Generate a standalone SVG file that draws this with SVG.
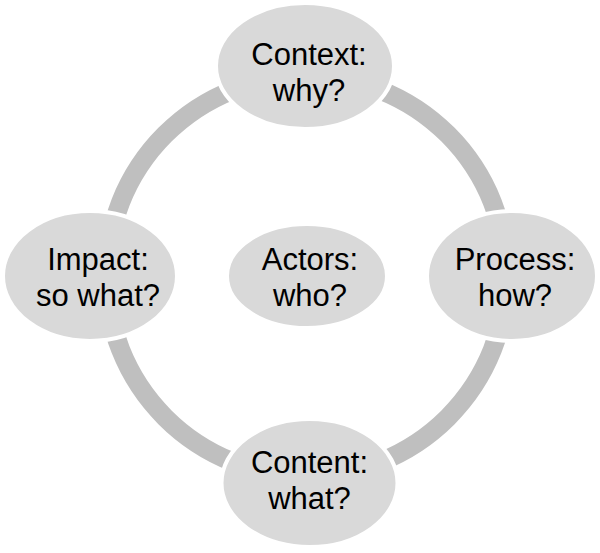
<svg xmlns="http://www.w3.org/2000/svg" width="600" height="553" viewBox="0 0 600 553">
<style>
.n{fill:#d9d9d9;stroke:#ffffff;stroke-width:4}
.t{font-family:"Liberation Sans",Arial,sans-serif;font-size:31px;fill:#000;text-anchor:middle}
.ring{fill:none;stroke:#bfbfbf;stroke-width:19}
</style>
<rect width="600" height="553" fill="#ffffff"/>
<g id="connectors">
<circle class="ring" cx="306.5" cy="276" r="200"/>
</g>
<g id="context">
<ellipse class="n" cx="305" cy="66" rx="89" ry="63"/>
<text class="t" x="309" y="65">Context:</text>
<text class="t" x="309" y="101">why?</text>
</g>
<g id="process">
<ellipse class="n" cx="512" cy="276" rx="85" ry="65"/>
<text class="t" x="515" y="270">Process:</text>
<text class="t" x="515" y="306">how?</text>
</g>
<g id="content">
<ellipse class="n" cx="309.5" cy="483" rx="88" ry="64"/>
<text class="t" x="309.5" y="473">Content:</text>
<text class="t" x="309.5" y="509">what?</text>
</g>
<g id="impact">
<ellipse class="n" cx="90" cy="276" rx="87" ry="65"/>
<text class="t" x="98" y="270">Impact:</text>
<text class="t" x="98" y="306">so what?</text>
</g>
<g id="actors">
<ellipse class="n" cx="307" cy="276" rx="80" ry="52"/>
<text class="t" x="310" y="270">Actors:</text>
<text class="t" x="310" y="306">who?</text>
</g>
</svg>
